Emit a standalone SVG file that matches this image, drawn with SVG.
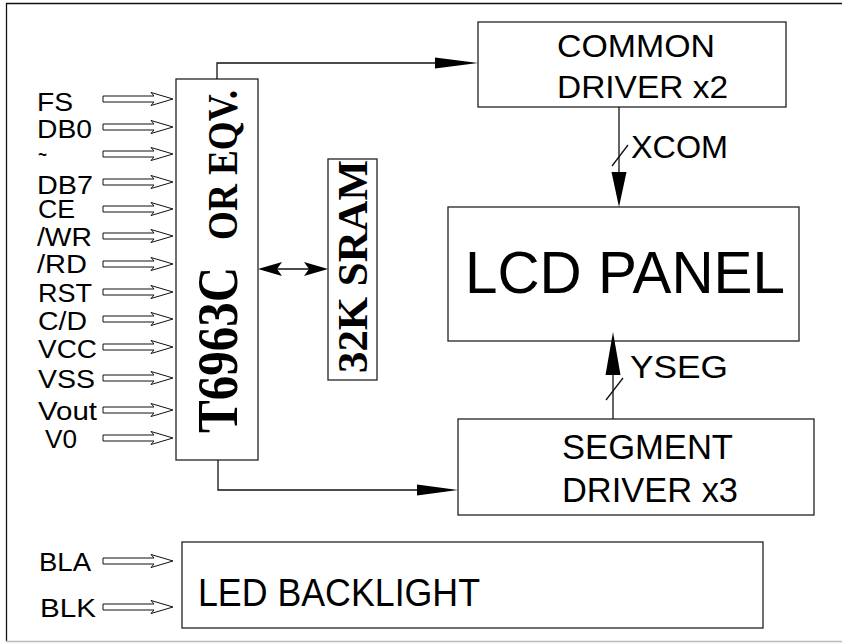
<svg xmlns="http://www.w3.org/2000/svg" xmlns:xlink="http://www.w3.org/1999/xlink" width="842" height="643" viewBox="0 0 842 643">
<style>
.box{fill:#fff;stroke:#222;stroke-width:1.3}
.ln{fill:none;stroke:#111;stroke-width:1.3}
.ah{fill:#000;stroke:none}
.in{fill:#fff;stroke:#111;stroke-width:1}
.lbl{font-family:"Liberation Sans",Arial,sans-serif;fill:#000}
.sig{font-family:"Liberation Sans",Arial,sans-serif;fill:#000;font-size:25px}
.chip{font-family:"Liberation Serif","Times New Roman",serif;font-weight:bold;fill:#000}
</style>
<defs>
<path id="inarrow" d="M0,-3 H51 L48,-6.5 L70,0 L48,6.5 L51,3 H0 Z"/>
</defs>
<rect x="0" y="0" width="842" height="643" fill="#fff"/>
<g id="frame">
<path d="M842,3.5 H6.5 V641" fill="none" stroke="#111" stroke-width="1.3"/>
<line x1="6" y1="641.5" x2="842" y2="641.5" stroke="#bbb" stroke-width="1.3"/>
</g>
<g id="controller">
<rect class="box" x="176" y="79" width="82" height="381"/>
<text class="chip" transform="translate(237,433) rotate(-90)" font-size="56" textLength="166" lengthAdjust="spacingAndGlyphs">T6963C</text>
<text class="chip" transform="translate(237,240) rotate(-90)" font-size="43" textLength="150" lengthAdjust="spacingAndGlyphs">OR EQV.</text>
</g>
<g id="sram">
<rect class="box" x="328" y="159" width="49" height="221"/>
<text class="chip" transform="translate(367,373) rotate(-90)" font-size="43" textLength="213" lengthAdjust="spacingAndGlyphs">32K SRAM</text>
</g>
<g id="common-driver">
<rect class="box" x="478" y="22" width="308" height="85"/>
<text class="lbl" x="557" y="57" font-size="31" textLength="158" lengthAdjust="spacingAndGlyphs">COMMON</text>
<text class="lbl" x="557" y="98" font-size="31" textLength="171" lengthAdjust="spacingAndGlyphs">DRIVER x2</text>
</g>
<g id="lcd-panel">
<rect class="box" x="448" y="207" width="351" height="134"/>
<text class="lbl" x="465" y="293" font-size="60" textLength="320" lengthAdjust="spacingAndGlyphs">LCD PANEL</text>
</g>
<g id="segment-driver">
<rect class="box" x="458" y="419" width="356" height="96"/>
<text class="lbl" x="562" y="459" font-size="35" textLength="171" lengthAdjust="spacingAndGlyphs">SEGMENT</text>
<text class="lbl" x="562" y="502" font-size="35" textLength="176" lengthAdjust="spacingAndGlyphs">DRIVER x3</text>
</g>
<g id="led-backlight">
<rect class="box" x="182" y="542" width="581" height="86"/>
<text class="lbl" x="198" y="606" font-size="38" textLength="282" lengthAdjust="spacingAndGlyphs">LED BACKLIGHT</text>
</g>
<g id="signals">
<text class="sig" x="37" y="111" textLength="36" lengthAdjust="spacingAndGlyphs">FS</text>
<text class="sig" x="37" y="138" textLength="55" lengthAdjust="spacingAndGlyphs">DB0</text>
<text class="sig" x="38" y="163" font-size="16" textLength="9" lengthAdjust="spacingAndGlyphs">~</text>
<text class="sig" x="37" y="194" textLength="56" lengthAdjust="spacingAndGlyphs">DB7</text>
<text class="sig" x="38" y="218" textLength="37" lengthAdjust="spacingAndGlyphs">CE</text>
<text class="sig" x="37" y="246" textLength="55" lengthAdjust="spacingAndGlyphs">/WR</text>
<text class="sig" x="37" y="273" textLength="50" lengthAdjust="spacingAndGlyphs">/RD</text>
<text class="sig" x="38" y="302" textLength="54" lengthAdjust="spacingAndGlyphs">RST</text>
<text class="sig" x="38" y="330" textLength="49" lengthAdjust="spacingAndGlyphs">C/D</text>
<text class="sig" x="38" y="358" textLength="59" lengthAdjust="spacingAndGlyphs">VCC</text>
<text class="sig" x="38" y="388" textLength="57" lengthAdjust="spacingAndGlyphs">VSS</text>
<text class="sig" x="38" y="420" textLength="59" lengthAdjust="spacingAndGlyphs">Vout</text>
<text class="sig" x="45" y="448" textLength="32" lengthAdjust="spacingAndGlyphs">V0</text>
<text class="sig" x="39" y="571" textLength="52" lengthAdjust="spacingAndGlyphs">BLA</text>
<text class="sig" x="40" y="617" textLength="56" lengthAdjust="spacingAndGlyphs">BLK</text>
</g>
<g id="connectors">
<use href="#inarrow" xlink:href="#inarrow" class="in" x="103" y="99"/>
<use href="#inarrow" xlink:href="#inarrow" class="in" x="103" y="127"/>
<use href="#inarrow" xlink:href="#inarrow" class="in" x="103" y="154"/>
<use href="#inarrow" xlink:href="#inarrow" class="in" x="103" y="182"/>
<use href="#inarrow" xlink:href="#inarrow" class="in" x="103" y="209"/>
<use href="#inarrow" xlink:href="#inarrow" class="in" x="103" y="236"/>
<use href="#inarrow" xlink:href="#inarrow" class="in" x="103" y="264"/>
<use href="#inarrow" xlink:href="#inarrow" class="in" x="103" y="292"/>
<use href="#inarrow" xlink:href="#inarrow" class="in" x="103" y="319"/>
<use href="#inarrow" xlink:href="#inarrow" class="in" x="103" y="347"/>
<use href="#inarrow" xlink:href="#inarrow" class="in" x="103" y="378"/>
<use href="#inarrow" xlink:href="#inarrow" class="in" x="103" y="410"/>
<use href="#inarrow" xlink:href="#inarrow" class="in" x="103" y="438"/>
<use href="#inarrow" xlink:href="#inarrow" class="in" x="103" y="561"/>
<use href="#inarrow" xlink:href="#inarrow" class="in" x="103" y="607"/>
<path class="ln" d="M217,79 V63 H440"/>
<polygon class="ah" points="435,57.5 478,63 435,68.5"/>
<path class="ln" d="M218,460 V490 H420"/>
<polygon class="ah" points="417,484.5 458,490 417,495.5"/>
<line class="ln" x1="262" y1="269" x2="324" y2="269" stroke-width="3"/>
<polygon class="ah" points="258,269 282,262 277,269 282,276"/>
<polygon class="ah" points="328,269 304,262 309,269 304,276"/>
<line class="ln" x1="619" y1="107" x2="619" y2="175"/>
<polygon class="ah" points="611.5,172 626.5,172 619,207"/>
<line class="ln" x1="612" y1="166" x2="628" y2="145" stroke-width="1"/>
<line class="ln" x1="613" y1="419" x2="613" y2="372"/>
<polygon class="ah" points="605.5,375 620.5,375 613,332"/>
<line class="ln" x1="606" y1="400" x2="623" y2="378" stroke-width="1"/>
<text class="lbl" x="631" y="158" font-size="32" textLength="97" lengthAdjust="spacingAndGlyphs">XCOM</text>
<text class="lbl" x="630" y="378" font-size="32" textLength="98" lengthAdjust="spacingAndGlyphs">YSEG</text>
</g>
</svg>
